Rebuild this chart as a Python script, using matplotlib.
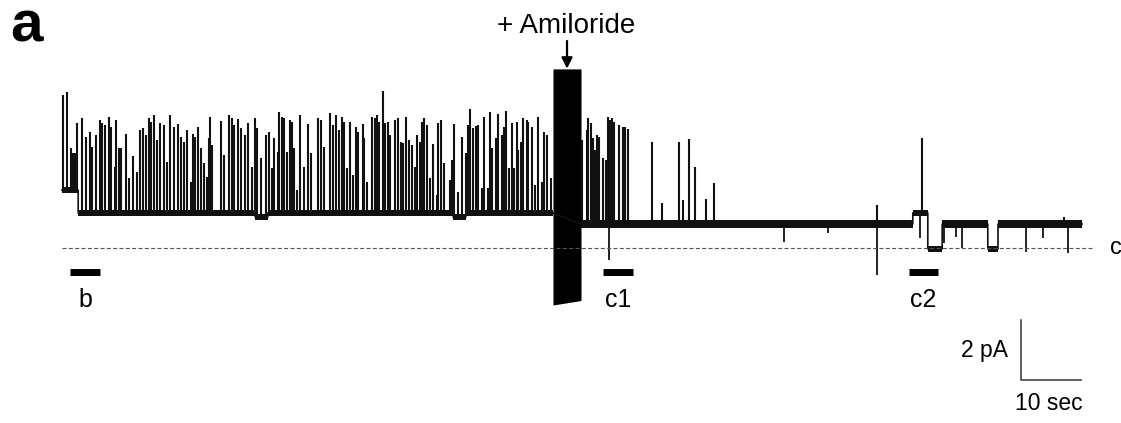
import numpy as np
import matplotlib.pyplot as plt

plt.rcParams['font.family'] = ['Liberation Sans', 'DejaVu Sans']

# baseline levels of the recording (time in sec, current in pA, closed level = 0)
seg_start = [0.0, 2.7, 32.2, 34.3, 65.2, 67.3, 86.5, 141.8, 144.3, 146.7, 154.3, 156.0]
seg_end = [2.7, 32.2, 34.3, 65.2, 67.3, 81.8, 141.8, 144.3, 146.7, 154.3, 156.0, 170.0]
seg_level = [1.93, 1.17, 1.03, 1.17, 1.03, 1.17, 0.8, 1.17, -0.03, 0.8, -0.03, 0.8]
seg_noise = [0.09, 0.09, 0.1, 0.09, 0.1, 0.09, 0.13, 0.1, 0.1, 0.13, 0.1, 0.13]

# channel openings (upward events): time and peak current
spike_t = [
    0.17, 0.83, 1.5, 1.83, 2.11, 2.5, 3.33, 4.0, 4.67, 5.0, 5.67, 6.33, 6.72, 7.11,
    7.78, 8.22, 8.78, 8.94, 9.5, 9.89, 10.61, 11.17, 11.83, 12.5, 13.06, 13.5, 13.94,
    14.44, 14.89, 15.33, 15.83, 16.28, 17.0, 17.5, 18.0, 18.67, 19.33, 19.89, 20.33,
    20.89, 21.44, 21.83, 22.22, 22.67, 23.22, 23.61, 24.17, 24.5, 24.72, 25.0, 26.44,
    26.94, 27.83, 28.39, 28.72, 29.39, 29.83, 30.5, 31.06, 31.72, 32.17, 32.45, 33.17,
    33.95, 34.55, 34.95, 35.39, 35.95, 36.22, 36.61, 37.05, 37.45, 38.0, 38.28, 38.67,
    39.11, 39.67, 40.33, 41.05, 41.5, 42.72, 43.17, 43.67, 44.67, 45.22, 45.67, 46.17,
    46.61, 47.05, 47.45, 48.0, 48.45, 49.0, 49.39, 50.11, 50.39, 50.89, 51.72, 52.17,
    52.55, 52.89, 53.45, 53.83, 54.28, 54.67, 55.5, 56.05, 56.45, 56.78, 57.33, 57.89,
    58.28, 58.83, 59.11, 59.67, 60.05, 60.39, 60.89, 61.33, 61.78, 62.45, 62.72, 63.17,
    63.67, 64.67, 65.0, 65.33, 66.05, 66.61, 67.33, 67.72, 68.0, 68.55, 69.0, 69.39,
    69.95, 70.39, 70.95, 71.33, 71.72, 72.33, 72.72, 73.28, 73.67, 74.0, 74.55, 74.95,
    75.33, 75.78, 76.05, 76.5, 76.89, 77.45, 77.72, 78.28, 78.83, 79.39, 79.95, 80.33,
    80.78, 81.45,
    86.67, 87.5, 87.72, 88.17, 88.55, 88.83, 89.22, 89.55, 90.22, 90.61, 90.95, 91.33,
    91.61, 92.0, 92.83, 93.45, 93.83, 94.28,
    98.33, 99.95, 102.89, 103.55, 104.5, 105.5, 107.33, 108.67, 135.83, 143.33, 167.0,
]
spike_peak = [
    5.10, 5.20, 3.33, 3.17, 3.17, 4.17, 4.33, 3.70, 3.87, 3.38, 3.77, 4.27, 4.16, 4.10,
    4.38, 4.04, 2.71, 4.27, 3.32, 3.32, 3.79, 2.32, 3.08, 2.54, 3.93, 3.99, 3.77,
    4.33, 4.21, 4.43, 3.60, 4.16, 4.10, 2.88, 4.43, 4.04, 4.12, 3.71, 3.54,
    3.93, 2.21, 3.79, 3.71, 4.04, 3.32, 2.82, 2.38, 3.66, 4.38, 3.43, 4.23,
    3.10, 4.43, 4.32, 4.10, 4.30, 3.99, 3.77, 4.16, 2.71, 4.32, 3.99, 2.99,
    3.77, 3.88, 2.66, 3.68, 3.21, 4.52, 4.38, 4.32, 3.21, 4.27, 4.21, 3.32,
    1.93, 4.43, 2.71, 4.12, 3.16, 4.34, 4.27, 3.38, 4.49, 4.10, 4.43, 3.93,
    4.38, 4.21, 2.66, 4.21, 2.43, 4.04, 3.88, 4.12, 3.66, 2.21, 4.38, 4.32,
    4.43, 4.21, 5.23, 4.16, 4.21, 3.77, 4.27, 4.32, 3.54, 3.49, 4.38, 3.60,
    3.43, 2.71, 3.77, 3.54, 4.19, 4.32, 4.10, 2.32, 3.46, 1.77, 4.16, 4.27,
    2.82, 2.27, 2.93, 4.12, 1.88, 3.71, 3.16, 4.10, 4.62, 4.01, 4.08, 4.10,
    1.99, 4.36, 1.99, 4.54, 3.32, 3.66, 4.46, 3.77, 4.04, 4.57, 2.66, 4.16,
    2.66, 4.21, 3.27, 3.54, 4.32, 4.27, 4.21, 4.04, 2.10, 4.38, 2.21, 3.88,
    3.77, 2.32,
    3.60, 3.93, 4.32, 4.16, 3.66, 3.27, 3.77, 3.71, 2.99, 2.93, 4.38, 4.27,
    4.32, 4.21, 4.10, 4.04, 4.02, 3.96,
    3.53, 1.51, 3.54, 1.60, 3.63, 2.71, 1.63, 2.17, 1.43, 3.67, 1.03,
]

# brief closures (downward events)
dip_t = [91.17, 120.33, 127.67, 135.83, 143.0, 147.0, 149.0, 150.0, 160.67, 163.5, 167.67]
dip_min = [-0.4, 0.2, 0.5, -0.9, 0.33, 0.17, 0.37, 0.0, -0.13, 0.33, -0.17]

# perfusion artefact while amiloride is added
block_t = [81.83, 86.5]
block_lo = [-1.9, -1.75]
block_hi = [5.97, 5.97]

# labelled segments shown expanded in the other panels
mark_names = ['b', 'c1', 'c2']
mark_start = [1.33, 90.17, 141.17]
mark_end = [6.33, 95.17, 146.0]


def level_at(t):
    idx = np.clip(np.searchsorted(seg_end, t), 0, len(seg_end) - 1)
    return np.asarray(seg_level)[idx]


def main():
    fig = plt.figure(figsize=(11.21, 4.23), dpi=100)
    ax = fig.add_axes([0, 0, 1, 1])
    trace_color = '#111111'

    # baseline with its noise band
    bx = np.column_stack([seg_start, seg_end]).ravel()
    by = np.repeat(seg_level, 2)
    ax.plot(bx, by, color=trace_color, lw=1.2)
    for s, e, lev, n in zip(seg_start, seg_end, seg_level, seg_noise):
        ax.fill_between([s, e], [lev - n] * 2, [lev + n] * 2, color=trace_color, lw=0)

    # openings and closures
    t = np.array(spike_t)
    ax.vlines(t, level_at(t), spike_peak, color=trace_color, lw=1.5)
    d = np.array(dip_t)
    ax.vlines(d, level_at(d), dip_min, color=trace_color, lw=1.3)

    ax.fill_between(block_t, block_lo, block_hi, color='black', lw=0)

    # closed level
    ax.plot([0, 171.7], [0, 0], color='#555555', lw=0.8, dashes=(3.6, 2.1))
    ax.text(174.6, 0.0, 'c', fontsize=17, va='center', ha='left')

    for name, s, e in zip(mark_names, mark_start, mark_end):
        ax.plot([s, e], [-0.8, -0.8], color='black', lw=5, solid_capstyle='butt')
        ax.text((s + e) / 2, -1.97, name, fontsize=18, ha='center', va='baseline')

    # amiloride application
    ax.annotate('', xy=(84.17, 5.98), xytext=(84.17, 6.9),
                arrowprops=dict(arrowstyle='-|>', color='black', lw=1.6,
                                mutation_scale=16, shrinkA=0, shrinkB=0))
    ax.text(84.0, 7.17, '+ Amiloride', fontsize=20, ha='center', va='baseline')

    # scale bar: 2 pA, 10 sec
    ax.plot([159.83, 159.83, 169.83], [-2.4, -4.4, -4.4], color='#333333', lw=1.1)
    ax.text(157.67, -3.63, '2 pA', fontsize=16.5, ha='right', va='baseline')
    ax.text(164.5, -5.4, '10 sec', fontsize=16.5, ha='center', va='baseline')

    fig.text(10 / 1121, 1 - 42 / 423, 'a', fontsize=42, fontweight='bold', va='baseline')

    ax.set_xlim(-10.333, 176.5)
    ax.set_ylim(-5.833, 8.267)
    ax.axis('off')
    fig.savefig('out.png', dpi=100)


if __name__ == "__main__":
    main()
